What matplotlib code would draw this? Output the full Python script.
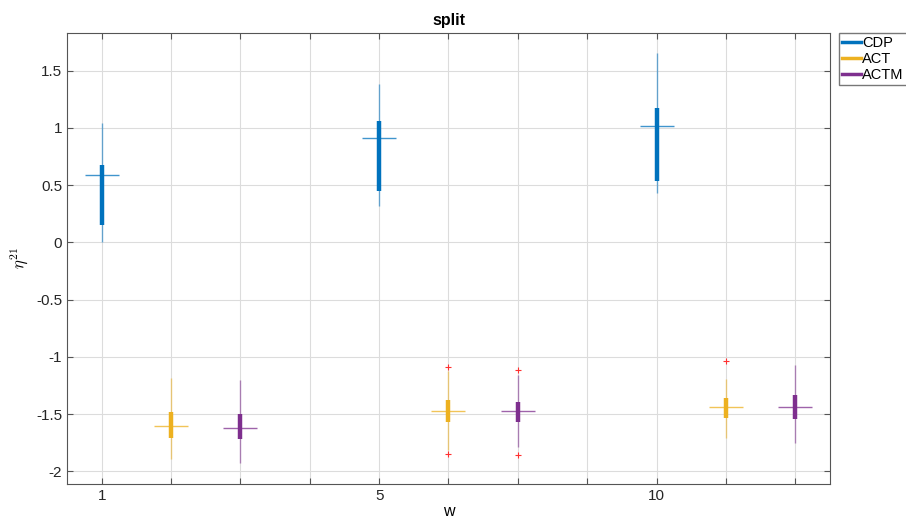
import matplotlib.pyplot as plt
import numpy as np

# box positions on the x axis for each method
positions = {'CDP': [1, 5, 9], 'ACT': [2, 6, 10], 'ACTM': [3, 7, 11]}
colors = {'CDP': '#0072BD', 'ACT': '#EDB120', 'ACTM': '#7E2F8E'}

# summary statistics (lower whisker, q1, median, q3, upper whisker)
whisker_lo = {'CDP': [0.0, 0.32, 0.43], 'ACT': [-1.89, -1.81, -1.71], 'ACTM': [-1.93, -1.79, -1.75]}
q1 = {'CDP': [0.15, 0.45, 0.54], 'ACT': [-1.71, -1.565, -1.53], 'ACTM': [-1.72, -1.565, -1.54]}
median = {'CDP': [0.585, 0.91, 1.02], 'ACT': [-1.60, -1.47, -1.44], 'ACTM': [-1.617, -1.475, -1.44]}
q3 = {'CDP': [0.68, 1.06, 1.17], 'ACT': [-1.477, -1.38, -1.355], 'ACTM': [-1.495, -1.39, -1.33]}
whisker_hi = {'CDP': [1.04, 1.38, 1.65], 'ACT': [-1.18, -1.12, -1.19], 'ACTM': [-1.20, -1.154, -1.075]}

# outliers (x position, value)
outlier_x = [6, 6, 7, 7, 10]
outlier_y = [-1.084, -1.845, -1.11, -1.853, -1.04]

xtick_labels = ['1', '', '', '', '5', '', '', '', '10', '', '']

plt.rcParams['font.family'] = ['Liberation Sans', 'DejaVu Sans']
plt.rcParams['mathtext.fontset'] = 'cm'
fig = plt.figure(figsize=(9.06, 5.27), dpi=100)
ax = fig.add_axes([0.074, 0.0816, 0.842, 0.856])

for m in ['CDP', 'ACT', 'ACTM']:
    c = colors[m]
    x = np.array(positions[m])
    ax.vlines(x, whisker_lo[m], whisker_hi[m], color=c, lw=1, alpha=0.55, zorder=3)
    ax.vlines(x, q1[m], q3[m], color=c, lw=3.2, zorder=4)
    ax.hlines(median[m], x - 0.245, x + 0.245, color=c, lw=1, alpha=0.75, zorder=5)
    ax.plot([], [], color=c, lw=2.5, label=m)

ax.plot(outlier_x, outlier_y, '+', color='#ff3030', ms=5, mew=0.8, zorder=6)

ax.set_xlim(0.5, 11.5)
ax.set_ylim(-2.11, 1.83)
ax.set_xticks(np.arange(1, 12))
ax.set_xticklabels(xtick_labels)
ax.set_yticks([-2, -1.5, -1, -0.5, 0, 0.5, 1, 1.5])
ax.set_yticklabels(['-2', '-1.5', '-1', '-0.5', '0', '0.5', '1', '1.5'])
ax.grid(True, color='#dcdcdc', lw=0.8)
ax.set_axisbelow(True)
ax.tick_params(direction='in', top=True, right=True, length=4, color='#555555',
               labelsize=11, labelcolor='#262626')
for s in ax.spines.values():
    s.set_color('#555555')
    s.set_linewidth(0.8)

ax.set_title('split', fontsize=11.5, fontweight='bold', pad=6)
ax.set_xlabel('w', fontsize=11.5, labelpad=1)
ax.set_ylabel(r'$\eta^{21}$', fontsize=12, labelpad=4)

ax.legend(loc='upper left', bbox_to_anchor=(1.012, 1.0), frameon=True, fancybox=False,
          edgecolor='#555555', fontsize=10.5, handlelength=1.3, handletextpad=0.1,
          borderpad=0.2, labelspacing=0.15, borderaxespad=0)

fig.savefig('out.png', dpi=100)
